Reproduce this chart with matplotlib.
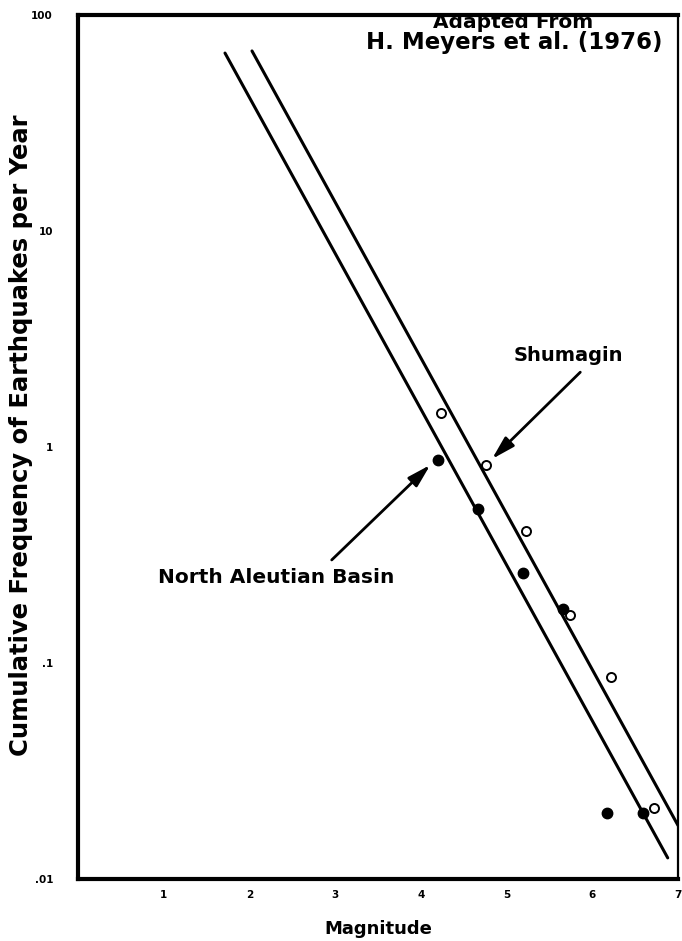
import numpy as np
import matplotlib
matplotlib.use("Agg")
import matplotlib.pyplot as plt

# Data
shumagin_mag = [4.24, 4.76, 5.23, 5.74, 6.22, 6.72]
shumagin_freq = [1.44, 0.826, 0.408, 0.167, 0.086, 0.0213]
nab_mag = [4.20, 4.67, 5.19, 5.66, 6.17, 6.59]
nab_freq = [0.871, 0.516, 0.261, 0.178, 0.0202, 0.0202]

# Fitted lines: log10 N = a - b*M
shumagin_a, shumagin_b = 3.298, 0.7214
shumagin_range = [2.03, 7.0]
nab_a, nab_b = 3.061, 0.7214
nab_range = [1.715, 6.88]

x_ticks = [1, 2, 3, 4, 5, 6, 7]
x_ticklabels = ["1", "2", "3", "4", "5", "6", "7"]
y_ticks = [0.01, 0.1, 1, 10, 100]
y_ticklabels = [".01", ".1", "1", "10", "100"]

FONT = "DejaVu Sans"

fig = plt.figure(figsize=(6.82, 9.41), dpi=100)
ax = fig.add_axes([78/682, 62/941, 600/682, 864/941])
ax.set_yscale("log")
ax.set_xlim(0, 7)
ax.set_ylim(0.01, 100)

for a, b, rng in [(shumagin_a, shumagin_b, shumagin_range),
                  (nab_a, nab_b, nab_range)]:
    m = np.array(rng)
    ax.plot(m, 10 ** (a - b * m), color="black", lw=2.2, solid_capstyle="round")

ax.plot(shumagin_mag, shumagin_freq, "o", mfc="white", mec="black", ms=6.5, mew=1.4)
ax.plot(nab_mag, nab_freq, "o", mfc="black", mec="black", ms=7.5)

ax.set_xticks(x_ticks)
ax.set_xticklabels(x_ticklabels)
ax.set_yticks(y_ticks)
ax.set_yticklabels(y_ticklabels)
ax.yaxis.set_minor_locator(matplotlib.ticker.NullLocator())
ax.tick_params(length=0, labelsize=7.5)
ax.tick_params(axis="x", pad=8)
ax.tick_params(axis="y", pad=18)
for lbl in ax.get_xticklabels() + ax.get_yticklabels():
    lbl.set_fontweight("bold")
    lbl.set_family(FONT)

for s in ["left", "bottom", "top"]:
    ax.spines[s].set_linewidth(3.0)
ax.spines["right"].set_linewidth(1.6)

ax.set_xlabel("Magnitude", fontsize=13, fontweight="bold", family=FONT, labelpad=14)
ax.set_ylabel("Cumulative Frequency of Earthquakes per Year", fontsize=17.5,
              fontweight="bold", family=FONT)
ax.yaxis.set_label_coords(-0.075, 0.514)

ax.text(0.725, 0.991, "Adapted From", transform=ax.transAxes, ha="center", va="center",
        fontsize=14.5, fontweight="bold", family=FONT)
ax.text(0.727, 0.968, "H. Meyers et al. (1976)", transform=ax.transAxes, ha="center",
        va="center", fontsize=16.5, fontweight="bold", family=FONT)

ax.text(5.72, 2.64, "Shumagin", ha="center", va="center", fontsize=14,
        fontweight="bold", family=FONT)
ax.annotate("", xy=(4.83, 0.88), xytext=(5.86, 2.22),
            arrowprops=dict(arrowstyle="-|>,head_length=1.0,head_width=0.28",
                            color="black", lw=2, shrinkA=0, shrinkB=0, mutation_scale=14))
ax.text(2.31, 0.25, "North Aleutian Basin", ha="center", va="center", fontsize=14.5,
        fontweight="bold", family=FONT)
ax.annotate("", xy=(4.11, 0.826), xytext=(2.96, 0.30),
            arrowprops=dict(arrowstyle="-|>,head_length=1.0,head_width=0.28",
                            color="black", lw=2, shrinkA=0, shrinkB=0, mutation_scale=14))

fig.savefig("out.png", dpi=100)
